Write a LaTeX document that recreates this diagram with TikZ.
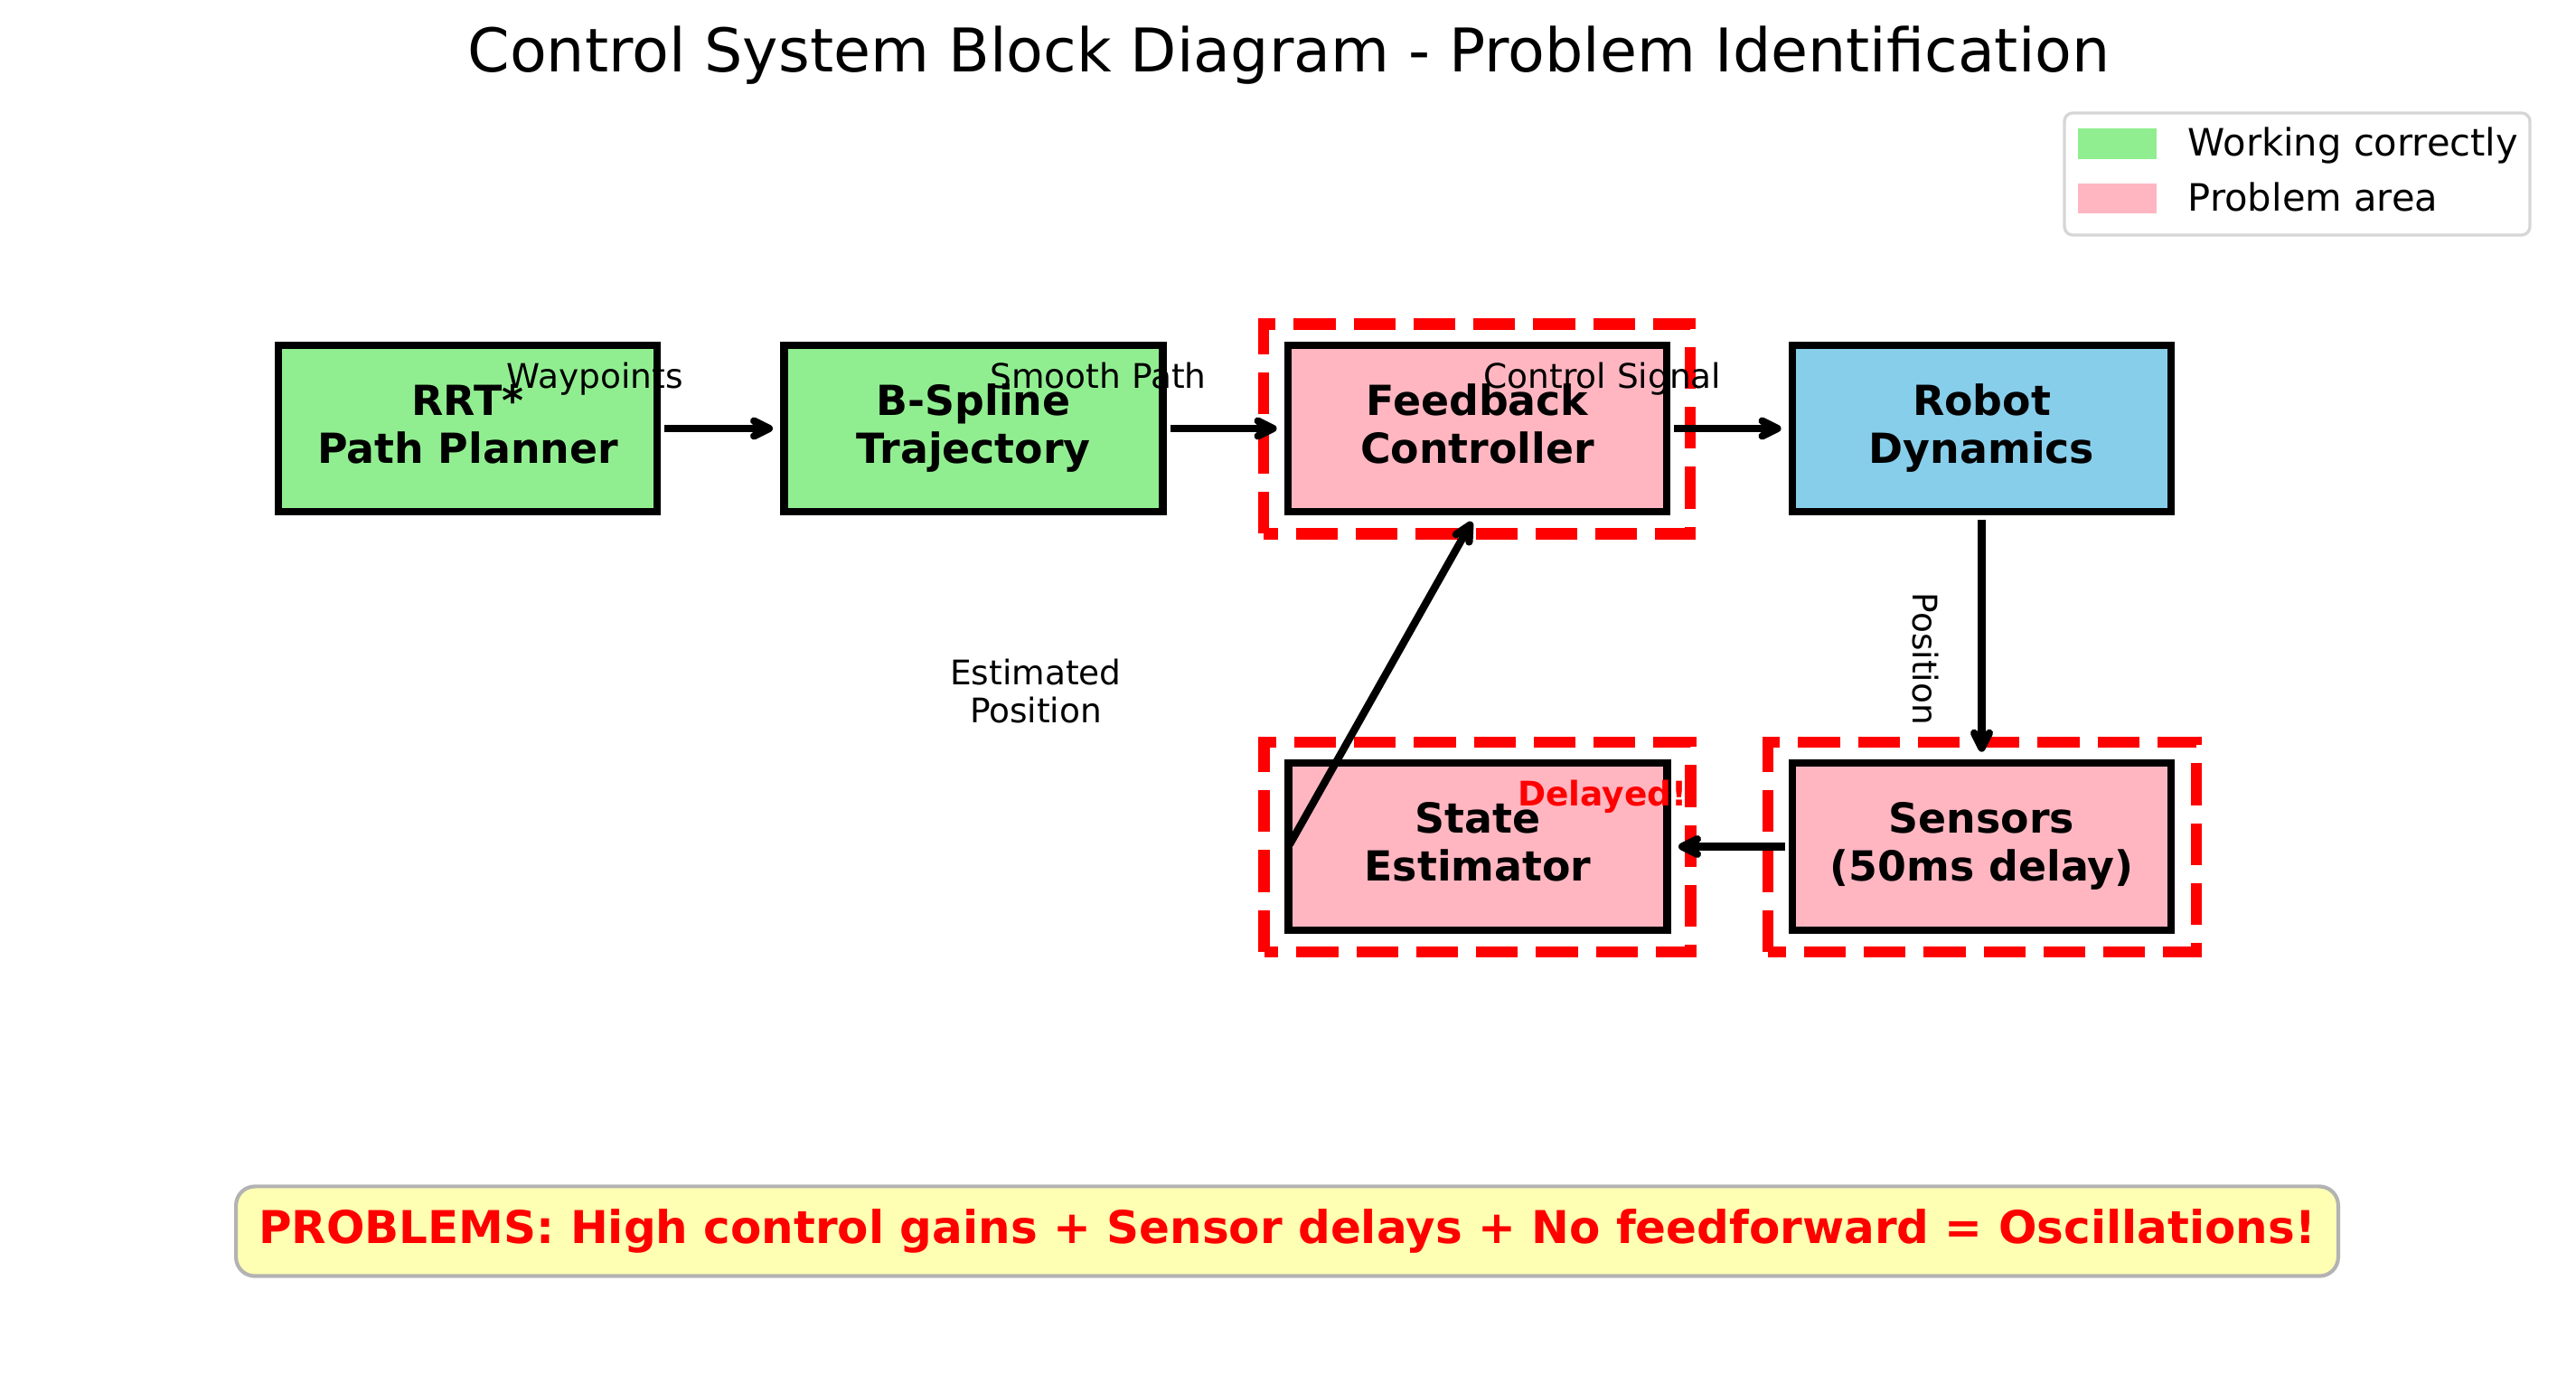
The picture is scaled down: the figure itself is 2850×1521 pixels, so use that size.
\documentclass[tikz,border=0pt]{standalone}
\usepackage{fontspec}
\setmainfont{DejaVu Sans}
\usetikzlibrary{arrows.meta,calc}
\definecolor{lgreen}{HTML}{90EE90}
\definecolor{lpink}{HTML}{FFB6C1}
\definecolor{skyb}{HTML}{87CEEB}
\definecolor{noteyellow}{HTML}{FFFFB3}
\definecolor{noteedge}{HTML}{B3B3B3}
\definecolor{legedge}{HTML}{D6D6D6}
\newcommand{\twoline}[2]{\rule{0pt}{9.1pt}#1\\#2\rule[-3.4pt]{0pt}{3.4pt}}
\begin{document}
\begin{tikzpicture}[x=0.24pt,y=-0.24pt,
  blockbox/.style={draw=black, line width=2pt, minimum width=100.56pt, minimum height=44.3pt,
    inner sep=0pt, outer sep=0pt, align=center, font=\fontsize{11}{12.7}\selectfont\bfseries},
  problemframe/.style={draw=red, line width=3pt, dash pattern=on 11.1pt off 4.8pt},
  flowarrow/.style={line width=2pt, -{Straight Barb[length=4pt,width=4pt,round]},
    shorten <=2pt, shorten >=3pt},
  sig/.style={font=\fontsize{9}{10}\selectfont, anchor=base, inner sep=0pt},
  legtext/.style={font=\fontsize{10}{12}\selectfont, anchor=base west, inner sep=0pt},
]
\path[use as bounding box] (0,0) rectangle (2850,1521);

% title
\node[anchor=base, inner sep=0pt, font=\fontsize{16}{19}\selectfont] (title) at (1426,80)
  {Control System Block Diagram - Problem Identification};

% blocks
\node[blockbox, fill=lgreen] (rrt) at (517.5,474) {\twoline{RRT*}{Path Planner}};
\node[blockbox, fill=lgreen] (bs) at (1077,474) {\twoline{B-Spline}{Trajectory}};
\node[blockbox, fill=lpink] (fb) at (1634.5,474) {\twoline{Feedback}{Controller}};
\node[blockbox, fill=skyb] (robot) at (2192.5,474) {\twoline{Robot}{Dynamics}};
\node[blockbox, fill=lpink] (est) at (1635,936.5) {\twoline{State}{Estimator}};
\node[blockbox, fill=lpink] (sens) at (2192.5,936.5) {\twoline{Sensors}{(50ms delay)}};

% problem frames
\draw[problemframe] ($(fb.south west)+(-27,24)$) rectangle ($(fb.north east)+(26,-23)$);
\draw[problemframe] ($(est.south west)+(-27,24)$) rectangle ($(est.north east)+(26,-23)$);
\draw[problemframe] ($(sens.south west)+(-27,24)$) rectangle ($(sens.north east)+(28,-23)$);

% connectors
\draw[flowarrow] (rrt.east) -- (bs.west);
\draw[flowarrow] (bs.east) -- (fb.west);
\draw[flowarrow] (fb.east) -- (robot.west);
\draw[flowarrow] (robot.south) -- (sens.north);
\draw[flowarrow] (sens.west) -- (est.east);
\draw[flowarrow, shorten <=0.7pt] (est.west) -- (fb.south);

% labels
\node[sig] (lwp) at (658,430) {Waypoints};
\node[sig] (lsp) at (1215,430) {Smooth Path};
\node[sig] (lcs) at (1773,430) {Control Signal};
\node[sig, rotate=-90] (lpos) at (2116,729) {Position};
\node[font=\fontsize{9}{10}\selectfont, align=center, inner sep=0pt] (lest) at (1146,768)
  {\rule{0pt}{7pt}Estimated\\Position\rule[-2pt]{0pt}{2pt}};
\node[sig, text=red, font=\fontsize{9}{10}\selectfont\bfseries] (ldel) at (1773,892) {Delayed!};

% legend
\draw[legedge, line width=0.8pt, fill=white, rounded corners=2.2pt] (2284,125) rectangle (2799,260);
\fill[lgreen] (2299,142) rectangle (2386,176);
\fill[lpink] (2299,203) rectangle (2386,236);
\node[legtext] (lg1) at (2420,173) {Working correctly};
\node[legtext] (lg2) at (2420,234) {Problem area};

% problem note
\node[draw=noteedge, fill=noteyellow, line width=1pt, rounded corners=5pt,
  minimum width=558.2pt, minimum height=23.8pt, inner sep=0pt,
  text=red, font=\fontsize{12}{14}\selectfont\bfseries] (note) at (1424,1362)
  {PROBLEMS: High control gains + Sensor delays + No feedforward = Oscillations!};
\end{tikzpicture}
\end{document}
